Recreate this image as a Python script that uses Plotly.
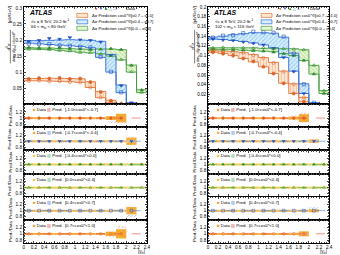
import plotly.graph_objects as go

W, H = 340, 255
FONT = "Liberation Sans"

EDGES = [0.0, 0.2, 0.4, 0.6, 0.8, 1.0, 1.2, 1.4, 1.6, 1.8, 2.0, 2.2, 2.4]
XTICK_VALS = [0.0, 0.2, 0.4, 0.6, 0.8, 1.0, 1.2, 1.4, 1.6, 1.8, 2.0, 2.2, 2.4]
XTICK_TEXT = ["0", "0.2", "0.4", "0.6", "0.8", "1", "1.2", "1.4", "1.6", "1.8", "2", "2.2", "2.4"]

# ---------------- Left column: 66 < mll < 80 GeV ----------------
L_OR_HI = [0.080, 0.080, 0.081, 0.080, 0.080, 0.079, 0.070, 0.040, 0.012, 0.002]
L_OR_LO = [0.073, 0.073, 0.072, 0.071, 0.070, 0.068, 0.052, 0.020, 0.004, 0.0005]
L_BL_HI = [0.198, 0.198, 0.199, 0.200, 0.201, 0.200, 0.199, 0.196, 0.155, 0.060, 0.004]
L_BL_LO = [0.190, 0.188, 0.186, 0.184, 0.182, 0.180, 0.176, 0.146, 0.100, 0.036, 0.002]
L_GR_HI = [0.176, 0.175, 0.175, 0.174, 0.173, 0.172, 0.171, 0.172, 0.172, 0.170, 0.122, 0.045]
L_GR_LO = [0.172, 0.171, 0.170, 0.168, 0.165, 0.162, 0.160, 0.157, 0.150, 0.138, 0.100, 0.036]

L_OR_NEG = [0.079, 0.081, 0.080, 0.082, 0.079, 0.080, 0.069, 0.038, 0.011, 0.0015]
L_OR_POS = [0.073, 0.074, 0.071, 0.072, 0.069, 0.068, 0.052, 0.021, 0.004, 0.0006]
L_BL_NEG = [0.196, 0.199, 0.205, 0.203, 0.208, 0.201, 0.199, 0.194, 0.152, 0.058, 0.004]
L_BL_POS = [0.189, 0.188, 0.187, 0.183, 0.182, 0.179, 0.177, 0.147, 0.101, 0.037, 0.002]
L_GR_NEG = [0.177, 0.176, 0.175, 0.176, 0.173, 0.172, 0.170, 0.171, 0.173, 0.170, 0.121, 0.044]
L_GR_POS = [0.171, 0.172, 0.170, 0.167, 0.166, 0.161, 0.160, 0.157, 0.151, 0.139, 0.101, 0.037]

# ---------------- Right column: 102 < mll < 116 GeV ----------------
R_OR_HI = [0.110, 0.109, 0.108, 0.106, 0.102, 0.096, 0.086, 0.068, 0.042, 0.014]
R_OR_LO = [0.107, 0.104, 0.100, 0.094, 0.087, 0.077, 0.063, 0.043, 0.022, 0.005]
R_BL_HI = [0.138, 0.140, 0.143, 0.145, 0.147, 0.147, 0.146, 0.138, 0.105, 0.042, 0.003]
R_BL_LO = [0.134, 0.133, 0.131, 0.129, 0.126, 0.122, 0.116, 0.096, 0.068, 0.022, 0.0015]
R_GR_HI = [0.116, 0.116, 0.116, 0.116, 0.116, 0.115, 0.115, 0.114, 0.114, 0.112, 0.080, 0.028]
R_GR_LO = [0.113, 0.112, 0.112, 0.111, 0.110, 0.109, 0.108, 0.104, 0.100, 0.090, 0.062, 0.022]

R_OR_NEG = [0.107, 0.104, 0.100, 0.094, 0.088, 0.077, 0.063, 0.043, 0.022, 0.005]
R_OR_POS = [0.110, 0.108, 0.107, 0.106, 0.101, 0.095, 0.085, 0.067, 0.041, 0.014]
R_BL_NEG = [0.134, 0.132, 0.131, 0.128, 0.125, 0.122, 0.115, 0.096, 0.067, 0.022, 0.0015]
R_BL_POS = [0.137, 0.141, 0.142, 0.146, 0.149, 0.148, 0.147, 0.139, 0.104, 0.041, 0.003]
R_GR_NEG = [0.113, 0.112, 0.111, 0.111, 0.110, 0.109, 0.107, 0.104, 0.100, 0.090, 0.062, 0.022]
R_GR_POS = [0.116, 0.117, 0.115, 0.116, 0.115, 0.116, 0.114, 0.114, 0.113, 0.112, 0.080, 0.028]

# ---------------- Ratio panels (Pred./Data) ----------------
LR_UNC = [
    [0.012, 0.012, 0.012, 0.012, 0.012, 0.013, 0.015, 0.022, 0.060, 0.140],
    [0.010, 0.010, 0.010, 0.010, 0.010, 0.010, 0.010, 0.012, 0.015, 0.030, 0.120],
    [0.010, 0.010, 0.010, 0.010, 0.010, 0.010, 0.010, 0.010, 0.012, 0.012, 0.015, 0.025],
    [0.010, 0.010, 0.010, 0.010, 0.010, 0.010, 0.010, 0.010, 0.012, 0.012, 0.015, 0.030],
    [0.010, 0.010, 0.010, 0.010, 0.010, 0.010, 0.010, 0.012, 0.015, 0.030, 0.120],
    [0.012, 0.012, 0.012, 0.012, 0.012, 0.013, 0.015, 0.022, 0.070, 0.150],
]
LR_PRED = [
    [0.990, 0.985, 0.990, 0.985, 0.990, 0.985, 0.990, 0.975, 0.870, 0.850],
    [1.000, 0.995, 0.990, 1.000, 0.995, 0.990, 1.000, 1.000, 0.995, 1.010, 1.000],
    [0.980, 0.985, 0.990, 0.985, 0.980, 0.980, 0.985, 0.980, 0.975, 0.980, 0.985, 0.980],
    [0.980, 0.980, 0.975, 0.980, 0.985, 0.980, 0.980, 0.975, 0.980, 0.975, 0.980, 0.985],
    [0.990, 1.000, 0.990, 0.990, 1.000, 0.995, 0.990, 0.990, 0.990, 0.985, 0.830],
    [0.990, 0.985, 0.985, 0.990, 0.980, 0.980, 0.975, 0.970, 0.920, 1.220],
]
RR_UNC = [
    [0.012, 0.012, 0.012, 0.012, 0.013, 0.014, 0.016, 0.020, 0.050, 0.130],
    [0.010, 0.010, 0.010, 0.010, 0.010, 0.010, 0.010, 0.012, 0.015, 0.025, 0.060],
    [0.010, 0.010, 0.010, 0.010, 0.010, 0.010, 0.010, 0.010, 0.012, 0.012, 0.015, 0.020],
    [0.010, 0.010, 0.010, 0.010, 0.010, 0.010, 0.010, 0.010, 0.012, 0.012, 0.015, 0.020],
    [0.010, 0.010, 0.010, 0.010, 0.010, 0.010, 0.010, 0.012, 0.015, 0.025, 0.050],
    [0.012, 0.012, 0.012, 0.012, 0.013, 0.014, 0.016, 0.020, 0.030, 0.080],
]
RR_PRED = [
    [1.000, 1.000, 1.005, 1.000, 1.010, 1.010, 1.020, 1.020, 1.070, 1.150],
    [1.000, 1.000, 0.995, 1.000, 1.000, 0.995, 1.000, 1.005, 1.000, 1.000, 0.990],
    [0.985, 0.980, 0.985, 0.980, 0.975, 0.980, 0.985, 0.980, 0.975, 0.980, 0.975, 0.980],
    [0.985, 0.985, 0.980, 0.985, 0.980, 0.985, 0.980, 0.975, 0.985, 0.980, 0.975, 0.985],
    [1.000, 0.995, 1.000, 1.000, 0.995, 1.000, 1.000, 1.000, 1.005, 1.010, 1.080],
    [1.000, 1.000, 0.995, 1.000, 1.000, 1.005, 1.000, 1.010, 1.030, 1.000],
]
PRED_UNC = [0.010, 0.010, 0.010, 0.010, 0.010, 0.010, 0.012, 0.012, 0.020, 0.030, 0.040, 0.030]

COS_LABELS = ["[-1.0&lt;cosθ*&lt;-0.7]", "[-0.7&lt;cosθ*&lt;-0.4]", "[-0.4&lt;cosθ*&lt;0.0]",
              "[0.0&lt;cosθ*&lt;0.4]", "[0.4&lt;cosθ*&lt;0.7]", "[0.7&lt;cosθ*&lt;1.0]"]
MASS_LABELS = ["66 &lt; m<sub>ℓℓ</sub> &lt; 80 GeV", "102 &lt; m<sub>ℓℓ</sub> &lt; 116 GeV"]
BAND_LABELS = ["Δσ Prediction cosθ*∈[±0.7→±1.0]", "Δσ Prediction cosθ*∈[±0.4→±0.7]",
               "Δσ Prediction cosθ*∈[0.0→±0.4]"]

# ---------------- styling ----------------
OR = dict(line="#e4773a", fill="#fde6d2", hatch="#f09a60", mk="#d9652b", rp="#e8453c", box="#f6a01c")
BL = dict(line="#2f6bd6", fill="#d8eefc", hatch="#3fa3e6", mk="#1f4fbf", rp="#3b7dd8", box="#f4a62a")
GR = dict(line="#3f9b3a", fill="#e6f5d5", hatch="#86c55a", mk="#2e8b2e", rp="#4caf50", box="#f3c42a")
ROW_STYLE = [OR, BL, GR, GR, BL, OR]
ROW_SYMBOL = ["circle", "triangle-down", "triangle-up", "triangle-up-open", "square-open", "circle-open"]

X_PX = [(23, 148), (210, 333)]
TOP_PX = (5, 103)
RATIO_TOP = 103
RATIO_H = 140 / 6.0

def px_x(p):
    return p / W

def px_y(p):
    return 1 - p / H

centers = [(EDGES[i] + EDGES[i + 1]) / 2 for i in range(len(EDGES) - 1)]

fig = go.Figure()
layout = {}
shapes = []
annotations = []

def ax_id(col, row):
    return col * 7 + row + 1

def suffix(idx):
    return "" if idx == 1 else str(idx)

def note(x, y, text, size, xanchor="left", angle=0):
    annotations.append(dict(xref="paper", yref="paper", x=x, y=y, xanchor=xanchor, yanchor="middle",
                            showarrow=False, textangle=angle, text=text,
                            font=dict(family=FONT, size=size, color="black")))

tickfont = dict(family=FONT, size=4.6, color="black")

for col in range(2):
    for row in range(7):
        idx = ax_id(col, row)
        if row == 0:
            ytop, ybot = TOP_PX
        else:
            ytop = RATIO_TOP + (row - 1) * RATIO_H
            ybot = ytop + RATIO_H
        xd = [px_x(X_PX[col][0]), px_x(X_PX[col][1])]
        yd = [px_y(ybot), px_y(ytop)]
        layout["xaxis" + suffix(idx)] = dict(
            domain=xd, range=[0, 2.4], anchor="y" + suffix(idx),
            tickmode="array", tickvals=XTICK_VALS, ticktext=XTICK_TEXT,
            showticklabels=(row == 6), ticks="inside", ticklen=2.5, tickwidth=0.5,
            showline=True, linecolor="black", linewidth=0.6, mirror="ticks",
            showgrid=False, zeroline=False, tickfont=tickfont,
            minor=dict(ticks="inside", ticklen=1.3, tickwidth=0.4, tickmode="linear", tick0=0, dtick=0.05),
        )
        ytitle = None
        if row == 0:
            if col == 0:
                yr = [0, 0.303]
                tv = [0.05, 0.1, 0.15, 0.2, 0.25, 0.3]
                tt = ["0.05", "0.1", "0.15", "0.2", "0.25", "0.3"]
                mdt = 0.01
            else:
                yr = [0, 0.2]
                tv = [0.02, 0.04, 0.06, 0.08, 0.1, 0.12, 0.14, 0.16, 0.18, 0.2]
                tt = ["0.02", "0.04", "0.06", "0.08", "0.1", "0.12", "0.14", "0.16", "0.18", "0.2"]
                mdt = 0.005
        else:
            yr = [0.7, 1.45]
            tv = [0.8, 1.0, 1.2]
            tt = ["0.8", "1", "1.2"]
            mdt = 0.05
            ytitle = dict(text="Pred./Data", font=dict(family=FONT, size=4.4, color="black"), standoff=3)
        ycfg = dict(
            domain=yd, range=yr, anchor="x" + suffix(idx),
            tickmode="array", tickvals=tv, ticktext=tt,
            ticks="inside", ticklen=2.5, tickwidth=0.5,
            showline=True, linecolor="black", linewidth=0.6, mirror="ticks",
            showgrid=False, zeroline=False, tickfont=tickfont,
            minor=dict(ticks="inside", ticklen=1.3, tickwidth=0.4, tickmode="linear", tick0=0, dtick=mdt),
        )
        if ytitle:
            ycfg["title"] = ytitle
        layout["yaxis" + suffix(idx)] = ycfg

TOPS = [
    dict(bands=[(L_OR_HI, L_OR_LO, OR, "|"), (L_GR_HI, L_GR_LO, GR, "\\"), (L_BL_HI, L_BL_LO, BL, "/")],
         data=[L_OR_NEG, L_BL_NEG, L_GR_NEG, L_GR_POS, L_BL_POS, L_OR_POS]),
    dict(bands=[(R_OR_HI, R_OR_LO, OR, "|"), (R_GR_HI, R_GR_LO, GR, "\\"), (R_BL_HI, R_BL_LO, BL, "/")],
         data=[R_OR_NEG, R_BL_NEG, R_GR_NEG, R_GR_POS, R_BL_POS, R_OR_POS]),
]
RATIOS = [(LR_UNC, LR_PRED), (RR_UNC, RR_PRED)]

for col in range(2):
    idx = ax_id(col, 0)
    xa, ya = "x" + suffix(idx), "y" + suffix(idx)
    for hi, lo, st, pat in TOPS[col]["bands"]:
        n = len(hi)
        fig.add_trace(go.Bar(
            x=centers[:n], y=[h - l for h, l in zip(hi, lo)], base=lo, width=0.2,
            marker=dict(color=st["fill"], line=dict(width=0),
                        pattern=dict(shape=pat, fgcolor=st["hatch"], bgcolor=st["fill"], size=3, solidity=0.3)),
            xaxis=xa, yaxis=ya, hoverinfo="skip"))
        for vals in (hi, lo):
            fig.add_trace(go.Scatter(
                x=EDGES[:n + 1], y=list(vals) + [vals[-1]], mode="lines",
                line=dict(color=st["line"], width=0.9, shape="hv"),
                xaxis=xa, yaxis=ya, hoverinfo="skip"))
    for r, vals in enumerate(TOPS[col]["data"]):
        n = len(vals)
        st = ROW_STYLE[r]
        fig.add_trace(go.Scatter(
            x=centers[:n], y=vals, mode="markers",
            marker=dict(symbol=ROW_SYMBOL[r], size=3.2, color=st["mk"], line=dict(color=st["mk"], width=0.6)),
            xaxis=xa, yaxis=ya, hoverinfo="skip"))

    unc_all, pred_all = RATIOS[col]
    for r in range(6):
        idx = ax_id(col, r + 1)
        xa, ya = "x" + suffix(idx), "y" + suffix(idx)
        st = ROW_STYLE[r]
        unc = unc_all[r]
        pred = pred_all[r]
        n = len(unc)
        fig.add_trace(go.Bar(
            x=centers[:n], y=[2 * u for u in unc], base=[1 - u for u in unc], width=0.2,
            marker=dict(color=st["box"], line=dict(width=0)), opacity=0.9,
            xaxis=xa, yaxis=ya, hoverinfo="skip"))
        pu = PRED_UNC[:n]
        fig.add_trace(go.Bar(
            x=centers[:n], y=[2 * u for u in pu], base=[p - u for p, u in zip(pred, pu)], width=0.2,
            marker=dict(color="rgba(255,255,255,0)", line=dict(width=0),
                        pattern=dict(shape="/", fgcolor=st["rp"], bgcolor="rgba(255,255,255,0.35)", size=2.5, solidity=0.35)),
            xaxis=xa, yaxis=ya, hoverinfo="skip"))
        shapes.append(dict(type="line", xref=xa, yref=ya, x0=0, x1=2.4, y0=1, y1=1,
                           line=dict(color=st["rp"], width=0.6, dash="dash")))
        fig.add_trace(go.Scatter(
            x=centers[:n], y=[1] * n, mode="markers",
            marker=dict(symbol=ROW_SYMBOL[r], size=2.8, color=st["mk"], line=dict(color=st["mk"], width=0.5)),
            xaxis=xa, yaxis=ya, hoverinfo="skip"))
        ytop = RATIO_TOP + r * RATIO_H
        x0 = X_PX[col][0]
        note(px_x(x0 + 7), px_y(ytop + 5.5),
             "<span style='color:%s'>■</span> Data <span style='color:%s'>▨</span> Pred.  %s"
             % (st["box"], st["rp"], COS_LABELS[r]), 4.3)

    x0 = X_PX[col][0]
    note(px_x(x0 + 3), px_y(10.5), "<b><i>ATLAS</i></b>", 6.8)
    note(px_x(x0 + 5), px_y(19), "√s = 8 TeV, 20.2 fb<sup>-1</sup>", 4.3)
    note(px_x(x0 + 5), px_y(25), MASS_LABELS[col], 4.3)
    mk_txt = " ".join("<span style='color:%s'>%s</span>" % (c, s) for c, s in
                      [(OR["mk"], "●"), (BL["mk"], "▼"), (GR["mk"], "▲"), (GR["mk"], "△"),
                       (BL["mk"], "□"), (OR["mk"], "○")])
    note(px_x(x0 + 100), px_y(6.5), mk_txt, 4.2, xanchor="right")
    note(px_x(x0 + 102), px_y(6.5), "Data", 4.3)
    for k, st in enumerate([OR, BL, GR]):
        yc = 13.5 + k * 6.5
        shapes.append(dict(type="rect", xref="paper", yref="paper",
                           x0=px_x(x0 + 54), x1=px_x(x0 + 65), y0=px_y(yc + 2), y1=px_y(yc - 2),
                           fillcolor=st["fill"], line=dict(color=st["line"], width=0.7)))
        note(px_x(x0 + 67), px_y(yc), BAND_LABELS[k], 4.1)
    note(px_x(x0 - 16), px_y(45), "d<sup>3</sup>σ", 4.4, xanchor="center", angle=-90)
    note(px_x(x0 - 10.5), px_y(45), "dm<sub>ℓℓ</sub> d|y<sub>ℓℓ</sub>| dcosθ*", 4.1, xanchor="center", angle=-90)
    shapes.append(dict(type="line", xref="paper", yref="paper", x0=px_x(x0 - 13.5), x1=px_x(x0 - 13.5),
                       y0=px_y(28), y1=px_y(62), line=dict(color="black", width=0.5)))
    note(px_x(x0 - 13.5), px_y(13), "[pb/GeV]", 4.4, xanchor="center", angle=-90)
    note(px_x(X_PX[col][1]), px_y(251.5), "|y<sub>ℓℓ</sub>|", 4.7, xanchor="right")

layout.update(dict(
    width=W, height=H, margin=dict(l=0, r=0, t=0, b=0), autosize=False,
    paper_bgcolor="white", plot_bgcolor="white", showlegend=False, barmode="overlay",
    font=dict(family=FONT, size=4.6, color="black"),
    shapes=shapes, annotations=annotations,
))
fig.update_layout(**layout)
fig.write_html("out.html")
